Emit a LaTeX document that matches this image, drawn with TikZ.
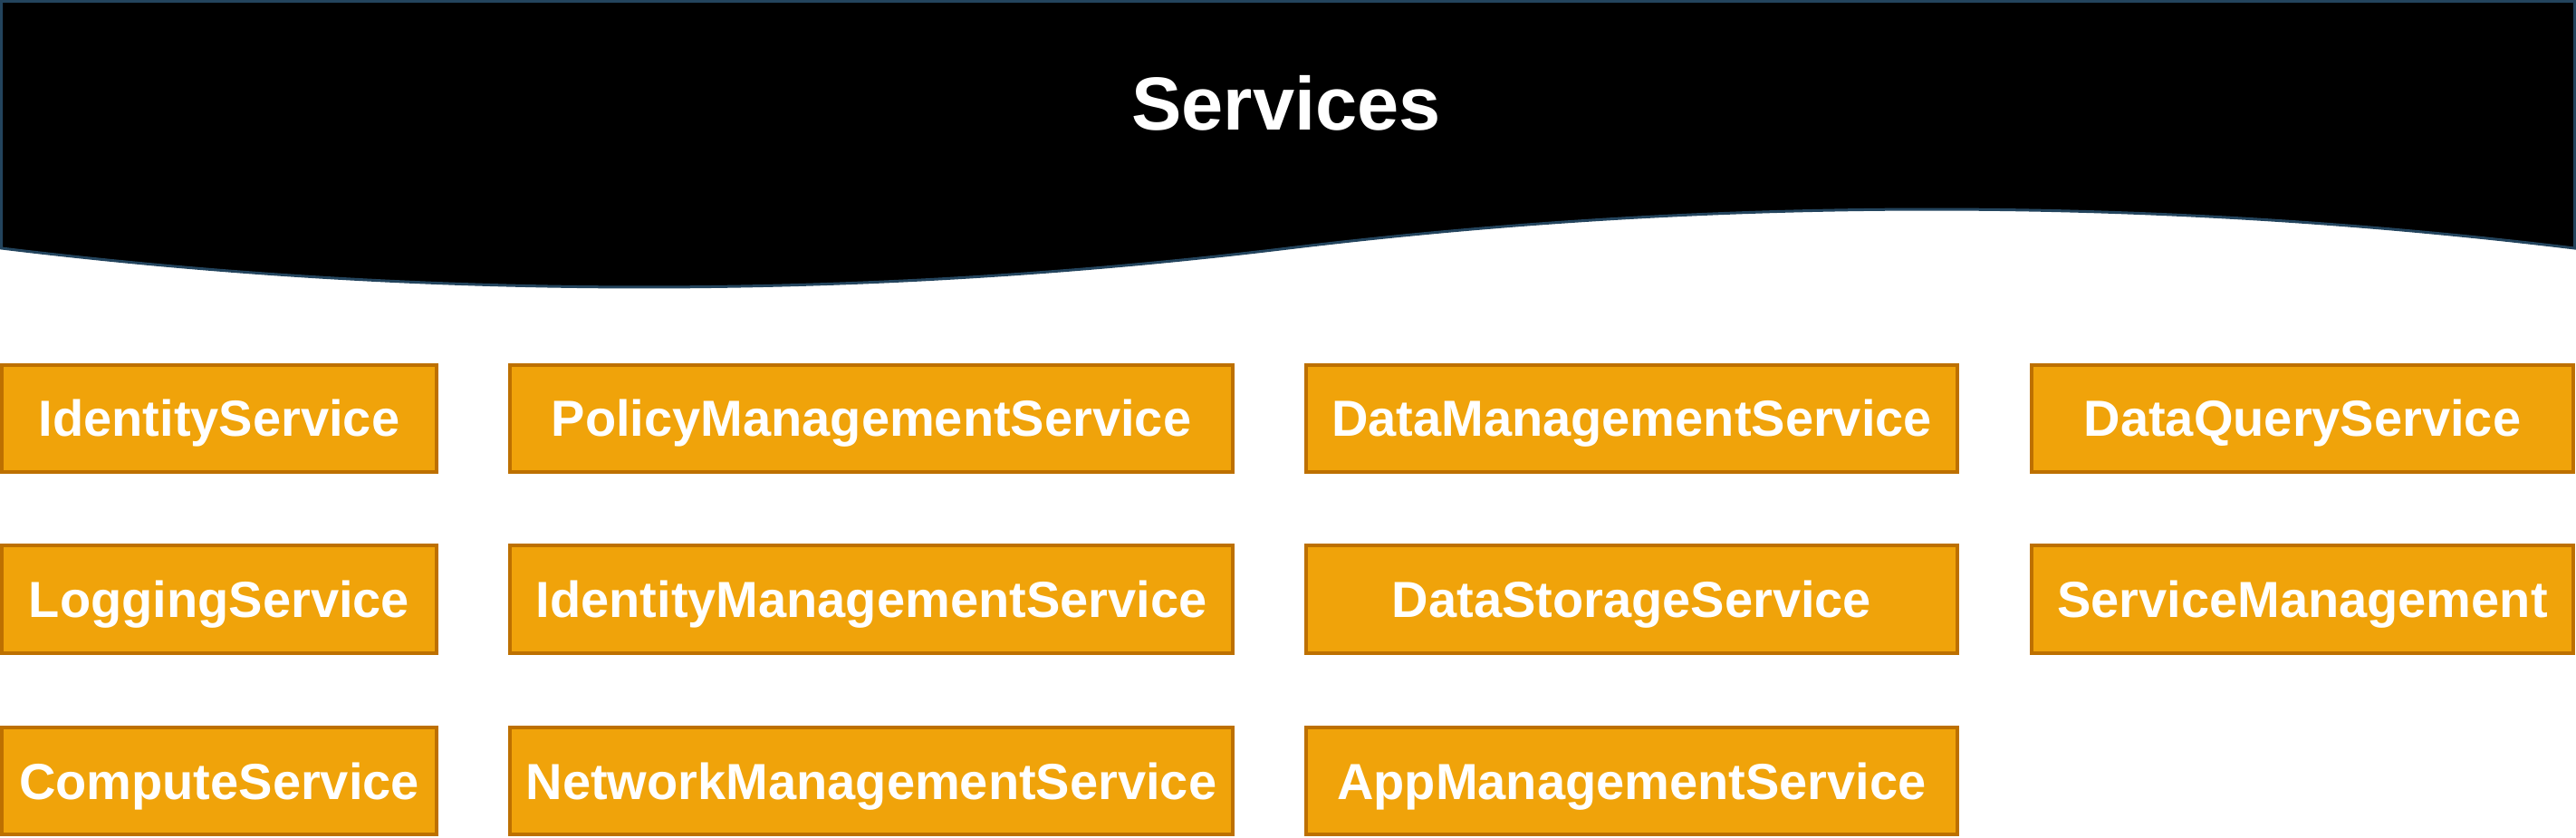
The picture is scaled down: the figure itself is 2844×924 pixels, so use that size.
\documentclass[tikz,border=0pt]{standalone}
\usepackage{fontspec}
\setmainfont{Liberation Sans}
\definecolor{hdrstroke}{HTML}{23445D}
\definecolor{boxfill}{HTML}{F0A30A}
\definecolor{boxstroke}{HTML}{BD7000}
\begin{document}
\begin{tikzpicture}[x=1pt,y=1pt,
  svcbox/.style={draw=boxstroke, fill=boxfill, line width=3.6pt, inner sep=0pt,
    text=white, font=\fontsize{56}{60}\selectfont\bfseries,
    text height=40pt, text depth=0pt, minimum height=118.4pt},
  hdrtext/.style={text=white, font=\fontsize{83}{90}\selectfont\bfseries, inner sep=0pt}]
\useasboundingbox (0,0) rectangle (2844,924);
% header (document shape)
\draw[fill=black, draw=hdrstroke, line width=3pt]
  (1.5,922.5) -- (2842.5,922.5) -- (2842.5,650)
  .. controls (2370,707.3) and (1896,707.3) .. (1422,650)
  .. controls (948,592.7) and (474,592.7) .. (1.5,650) -- cycle;
\node[hdrtext, anchor=base] (title) at (1420,780) {Services};
% row 1
\node[svcbox, minimum width=480.4pt] (identity) at (242,462) {IdentityService};
\node[svcbox, minimum width=798.4pt] (policy) at (962,462) {PolicyManagementService};
\node[svcbox, minimum width=719.4pt] (datamgmt) at (1801.5,462) {DataManagementService};
\node[svcbox, minimum width=598.4pt] (dataquery) at (2542,462) {DataQueryService};
% row 2
\node[svcbox, minimum width=480.4pt] (logging) at (242,262.5) {LoggingService};
\node[svcbox, minimum width=798.4pt] (idmgmt) at (962,262.5) {IdentityManagementService};
\node[svcbox, minimum width=719.4pt] (storage) at (1801.5,262.5) {DataStorageService};
\node[svcbox, minimum width=598.4pt] (svcmgmt) at (2542,262.5) {ServiceManagement};
% row 3
\node[svcbox, minimum width=480.4pt] (compute) at (242,62) {ComputeService};
\node[svcbox, minimum width=798.4pt] (network) at (962,62) {NetworkManagementService};
\node[svcbox, minimum width=719.4pt] (appmgmt) at (1801.5,62) {AppManagementService};
\end{tikzpicture}
\end{document}
